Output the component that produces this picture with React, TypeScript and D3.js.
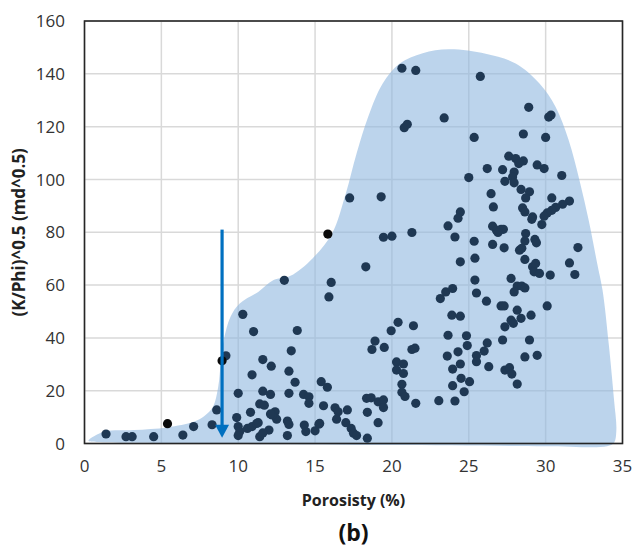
import React from "react";
import * as d3 from "d3";

const X_TICKS = [0, 5, 10, 15, 20, 25, 30, 35];
const Y_TICKS = [0, 20, 40, 60, 80, 100, 120, 140, 160];

// porosity (%) of each sample
const PTS_X = [
  1.4, 2.7, 3.1, 4.5, 6.4, 7.1, 8.3, 8.6, 9.2, 10.3, 11.0, 10.0, 9.9, 10.9, 10.8, 10.0, 10.1, 10.0, 10.6, 10.9,
  11.2, 11.4, 11.7, 11.4, 11.6, 12.15, 11.6, 12.1, 11.3, 12.0, 11.6, 13.0, 13.45, 13.84, 13.3, 13.7, 13.3, 14.25, 14.6, 14.6,
  12.4, 12.5, 12.2, 13.2, 13.3, 13.2, 14.3, 14.4, 15.0, 15.3, 12.1, 18.3, 16.05, 15.9, 20.4, 19.95, 18.9, 18.7, 19.5, 20.3,
  20.75, 20.3, 20.75, 20.65, 20.65, 20.85, 15.4, 15.8, 15.55, 16.3, 16.5, 17.1, 16.4, 17.0, 17.35, 17.5, 17.7, 18.4, 18.35, 18.65,
  18.4, 19.1, 19.45, 19.45, 19.1, 15.25, 25.0, 19.3, 17.25, 19.45, 20.0, 21.3, 24.45, 24.3, 23.65, 24.1, 25.35, 24.45, 25.4, 25.4,
  25.5, 26.15, 23.15, 23.5, 23.95, 23.9, 24.45, 21.4, 21.3, 21.5, 23.65, 24.85, 24.9, 24.3, 23.6, 24.45, 23.95, 25.5, 25.5, 26.2,
  26.0, 21.55, 23.05, 24.1, 24.5, 25.05, 23.95, 24.7, 20.65, 21.55, 23.4, 20.8, 21.0, 25.75, 28.9, 30.2, 30.35, 25.35, 28.55, 30.0,
  27.6, 28.05, 28.55, 28.25, 29.45, 29.9, 26.2, 27.2, 31.05, 27.95, 27.85, 27.35, 27.95, 28.4, 28.95, 28.7, 26.45, 26.6, 30.4, 31.55,
  31.1, 30.65, 30.4, 30.1, 29.9, 28.5, 28.65, 29.15, 29.1, 29.75, 26.55, 26.8, 27.1, 27.25, 26.9, 26.55, 27.3, 28.7, 28.65, 29.3,
  29.4, 28.3, 28.45, 28.65, 29.15, 29.35, 29.25, 29.6, 30.3, 31.55, 32.1, 31.9, 27.75, 28.15, 28.45, 28.65, 27.95, 30.1, 27.1, 27.3,
  28.15, 29.05, 27.75, 27.9, 28.4, 27.35, 27.2, 28.95, 28.65, 29.45, 26.3, 27.35, 27.65, 27.8, 28.15,
];
// (K/Phi)^0.5 of each sample
const PTS_Y = [
  3.6, 2.6, 2.6, 2.6, 3.2, 6.4, 7.1, 12.7, 33.2, 48.9, 42.4, 19.0, 9.8, 26.0, 11.8, 6.4, 4.5, 3.0, 5.7, 6.4,
  7.6, 15.0, 14.5, 2.6, 31.8, 29.3, 19.8, 18.6, 7.9, 5.1, 4.0, 61.8, 35.1, 42.8, 27.4, 23.2, 19.0, 18.6, 17.7, 15.2,
  12.0, 9.2, 10.8, 8.5, 7.2, 3.0, 7.0, 4.5, 4.8, 7.6, 11.2, 66.9, 61.0, 55.5, 45.9, 42.7, 38.8, 35.6, 36.4, 30.9,
  30.1, 27.8, 26.5, 22.4, 19.4, 17.8, 23.4, 21.3, 14.3, 13.5, 12.0, 12.7, 9.2, 7.9, 5.7, 3.9, 3.0, 2.0, 17.1, 17.3,
  11.8, 15.8, 16.5, 13.6, 7.9, 7.3, 100.7, 93.4, 93.0, 78.1, 78.5, 79.9, 87.7, 85.3, 82.4, 78.2, 76.6, 68.8, 70.2, 61.9,
  57.0, 53.9, 54.9, 57.4, 58.7, 48.6, 48.2, 44.6, 35.6, 36.1, 41.0, 40.8, 37.1, 34.7, 33.1, 30.1, 28.2, 33.3, 31.0, 38.1,
  35.0, 15.2, 16.2, 16.1, 24.7, 23.4, 21.9, 19.6, 142.1, 141.3, 123.3, 119.6, 120.9, 139.0, 127.3, 123.6, 124.4, 115.9, 117.2, 115.9,
  108.8, 107.9, 107.0, 106.0, 105.5, 104.1, 104.1, 103.7, 101.5, 102.8, 100.9, 99.3, 98.7, 96.2, 95.3, 93.0, 94.6, 89.6, 93.0, 91.8,
  90.6, 89.4, 88.3, 87.3, 86.1, 89.2, 87.7, 85.8, 84.9, 82.9, 82.3, 80.8, 81.1, 81.1, 79.9, 75.4, 74.1, 79.5, 76.7, 77.3,
  76.0, 73.2, 73.9, 69.7, 66.9, 68.2, 65.0, 64.4, 63.8, 68.4, 74.2, 64.0, 62.5, 59.6, 59.6, 58.9, 57.4, 52.1, 52.1, 52.1,
  50.5, 48.6, 46.7, 45.5, 47.4, 44.2, 39.2, 39.2, 32.8, 33.4, 29.1, 27.8, 28.7, 26.3, 22.5,
];
// samples printed in black
const BLACK_X = [5.4, 8.95, 15.83];
const BLACK_Y = [7.5, 31.3, 79.3];

// outline of the shaded envelope (porosity, (K/Phi)^0.5)
const ENV_X = [
  0.25, 1.3, 3.2, 5.4, 7.1, 7.8, 8.35, 8.7, 8.88, 9.06, 9.5, 10.1, 11.3, 12.3, 13.4, 14.85, 16.1, 17.0, 17.7, 18.45,
  19.4, 20.5, 22.0, 23.7, 26.1, 28.05, 29.6, 30.65, 31.5, 32.2, 32.8, 33.35, 33.7, 34.1, 34.45, 34.6, 34.45, 34.0, 30.0, 20.0,
  10.0, 3.0, 0.8,
];
const ENV_Y = [
  1.0, 4.5, 5.1, 6.1, 8.2, 10.4, 13.8, 21.5, 31.6, 39.2, 48.0, 53.0, 57.4, 61.9, 63.5, 70.2, 79.5, 94.7, 109.8, 123.6,
  136.3, 143.9, 147.8, 149.3, 147.6, 143.9, 136.3, 127.4, 114.8, 99.7, 84.5, 68.3, 58.1, 38.0, 16.5, 5.1, 0.3, -1.0, -1.0, -0.6,
  -0.2, 0.3, 0.6,
];

const ARROW_X = 8.95;
const ARROW_Y0 = 81;
const ARROW_Y1 = 2.2;

const W = 634;
const H = 549;

export default function App() {
  const x = d3.scaleLinear().domain([0, 35]).range([84.5, 622.5]);
  const y = d3.scaleLinear().domain([0, 160]).range([443.5, 21]);

  const env = ENV_X.map((v, i) => [v, ENV_Y[i]] as [number, number]);
  const envPath = d3
    .line<[number, number]>()
    .x((d) => x(d[0]))
    .y((d) => y(d[1]))
    .curve(d3.curveCatmullRomClosed.alpha(0.5))(env) as string;

  const font = "'Open Sans', 'Noto Sans', sans-serif";
  const ax = x(ARROW_X);
  const ay0 = y(ARROW_Y0);
  const ay1 = y(ARROW_Y1);
  const headH = 13;
  const headW = 7;

  return (
    <svg
      width={W}
      height={H}
      style={{ position: "absolute", left: 0, top: 0, background: "#fff" }}
      fontFamily={font}
    >
      {/* grid */}
      {X_TICKS.map((t) => (
        <line key={"gx" + t} x1={x(t)} x2={x(t)} y1={y(0)} y2={y(160)} stroke="#d9d9d9" strokeWidth={1.5} />
      ))}
      {Y_TICKS.map((t) => (
        <line key={"gy" + t} x1={x(0)} x2={x(35)} y1={y(t)} y2={y(t)} stroke="#d9d9d9" strokeWidth={1.5} />
      ))}
      {/* envelope */}
      <path d={envPath} fill="#8fb8e0" fillOpacity={0.6} stroke="none" />
      {/* frame */}
      <rect
        x={x(0)}
        y={y(160)}
        width={x(35) - x(0)}
        height={y(0) - y(160)}
        fill="none"
        stroke="#262626"
        strokeWidth={1.6}
      />
      {/* points */}
      {PTS_X.map((v, i) => (
        <circle key={"p" + i} cx={x(v)} cy={y(PTS_Y[i])} r={4.6} fill="#1f3853" />
      ))}
      {BLACK_X.map((v, i) => (
        <circle key={"b" + i} cx={x(v)} cy={y(BLACK_Y[i])} r={4.6} fill="#0a0a0a" />
      ))}
      {/* arrow */}
      <line x1={ax} x2={ax} y1={ay0} y2={ay1 - headH + 2} stroke="#0070c0" strokeWidth={3.2} />
      <path
        d={`M${ax - headW},${ay1 - headH} L${ax + headW},${ay1 - headH} L${ax},${ay1} Z`}
        fill="#0070c0"
      />
      {/* y tick labels */}
      {Y_TICKS.map((t) => (
        <text
          key={"ty" + t}
          x={65}
          y={y(t)}
          dy="0.36em"
          textAnchor="end"
          fontSize={17}
          fill="#333"
        >
          {t}
        </text>
      ))}
      {/* x tick labels */}
      {X_TICKS.map((t) => (
        <text key={"tx" + t} x={x(t)} y={472} textAnchor="middle" fontSize={17} fill="#333">
          {t}
        </text>
      ))}
      <text x={(x(0) + x(35)) / 2} y={506} textAnchor="middle" fontSize={16} fontWeight="bold" fill="#222">
        Porosisty (%)
      </text>
      <text
        transform={`translate(24.5,${(y(0) + y(160)) / 2}) rotate(-90)`}
        textAnchor="middle"
        fontSize={17}
        fontWeight="bold"
        fill="#222"
      >
        (K/Phi)^0.5 (md^0.5)
      </text>
      <text x={(x(0) + x(35)) / 2} y={541} textAnchor="middle" fontSize={23} fontWeight="bold" fill="#111">
        (b)
      </text>
    </svg>
  );
}
